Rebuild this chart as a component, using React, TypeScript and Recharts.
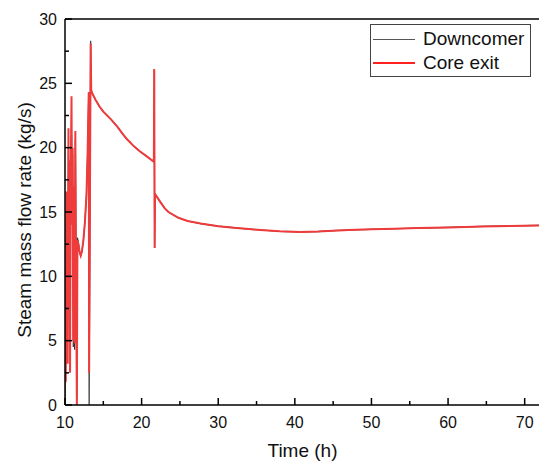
import React from 'react';
import { LineChart, Line, XAxis, YAxis, ReferenceLine } from 'recharts';

// time (h) and steam mass flow rates (kg/s)
const time = [
  10.0, 10.05, 10.1, 10.18, 10.25, 10.3, 10.35, 10.45, 10.52, 10.6, 10.66, 10.75, 10.85, 10.92,
  11.0, 11.08, 11.15, 11.25, 11.35, 11.45, 11.55, 11.62, 11.75, 11.9, 12.05, 12.2, 12.4, 12.6,
  12.8, 12.95, 13.1, 13.15, 13.35, 13.42, 13.5, 14.0, 14.5, 15.0, 16.0, 16.8, 17.5, 18.1, 19.0,
  19.8, 20.5, 21.6, 21.65, 21.7, 21.75, 22.3, 23.0, 23.5, 24.8, 26.0, 27.7, 30, 32, 34, 36, 38,
  40.7, 43, 45, 47, 50, 53, 56, 60, 64.5, 68, 72,
];
const coreExit = [
  1.5, 3.0, 1.8, 16.6, 5.5, 12.0, 3.2, 21.5, 10.0, 19.0, 2.5, 18.0, 24.0, 14.0,
  20.0, 5.0, 17.0, 4.8, 21.3, 9.0, 0, 12.8, 12.5, 11.9, 11.6, 11.9, 12.8, 14.2,
  16.3, 19.5, 24.3, 2.5, 28.1, 24.5, 24.3, 23.7, 23.2, 22.8, 22.2, 21.65, 21.1, 20.65, 20.1,
  19.7, 19.4, 18.9, 26.1, 12.2, 16.4, 15.9, 15.3, 15.0, 14.55, 14.3, 14.1, 13.9, 13.78, 13.67, 13.58, 13.5,
  13.45, 13.48, 13.55, 13.6, 13.65, 13.7, 13.75, 13.8, 13.88, 13.92, 13.96,
];
const downcomer = [
  0, 9.0, 4.0, 14.0, 6.0, 11.0, 5.0, 20.0, 10.5, 18.0, 3.5, 17.5, 21.0, 14.5,
  19.5, 4.5, 16.5, 4.3, 20.6, 10.0, 0.5, 13.0, 12.6, 11.9, 11.6, 11.9, 12.8, 14.2,
  16.3, 19.5, 24.3, 0, 28.3, 24.5, 24.3, 23.7, 23.2, 22.8, 22.2, 21.65, 21.1, 20.65, 20.1,
  19.7, 19.4, 18.9, 26.1, 12.2, 16.4, 15.9, 15.3, 15.0, 14.55, 14.3, 14.1, 13.9, 13.78, 13.67, 13.58, 13.5,
  13.45, 13.48, 13.55, 13.6, 13.65, 13.7, 13.75, 13.8, 13.88, 13.92, 13.96,
];

const xTicks = [10, 15, 20, 25, 30, 35, 40, 45, 50, 55, 60, 65, 70];
const yTicks = [0, 2.5, 5, 7.5, 10, 12.5, 15, 17.5, 20, 22.5, 25, 27.5, 30];

const data = time.map((t, i) => ({ t, core: coreExit[i], down: downcomer[i] }));

const FONT = '"Liberation Sans", Arial, sans-serif';

const YTick = (props: any) => {
  const { x, y, payload } = props;
  const major = payload.value % 5 === 0;
  return (
    <g>
      <line x1={x} x2={x + (major ? 7 : 4)} y1={y} y2={y} stroke="#000" strokeWidth={1.5} />
      {major && (
        <text x={x - 8} y={y} dy={5.5} textAnchor="end" fontSize={16} fontFamily={FONT} fill="#111">
          {payload.value}
        </text>
      )}
    </g>
  );
};

const XTick = (props: any) => {
  const { x, y, payload } = props;
  const major = payload.value % 10 === 0;
  return (
    <g>
      <line x1={x} x2={x} y1={y} y2={y - (major ? 7 : 4)} stroke="#000" strokeWidth={1.5} />
      {major && (
        <text x={x} y={y + 23} textAnchor="middle" fontSize={16} fontFamily={FONT} fill="#111">
          {payload.value}
        </text>
      )}
    </g>
  );
};

const legendText: React.CSSProperties = { fontSize: 19, lineHeight: '24px', color: '#111', marginLeft: 8 };

export default function App() {
  return (
    <div style={{ position: 'absolute', left: 0, top: 0, width: 539, height: 461, overflow: 'hidden', background: '#fff', fontFamily: FONT }}>
      <LineChart width={540} height={461} data={data} margin={{ top: 19, right: 0, left: 0, bottom: 0 }}>
        <XAxis
          dataKey="t"
          type="number"
          domain={[10, 72]}
          ticks={xTicks}
          interval={0}
          tickSize={0}
          tickMargin={0}
          tickLine={false}
          tick={<XTick />}
          height={56}
          axisLine={{ stroke: '#000', strokeWidth: 1.5 }}
          allowDataOverflow
          label={() => (
            <text x={302.5} y={457} textAnchor="middle" fontSize={19} fontFamily={FONT} fill="#111">
              Time (h)
            </text>
          )}
        />
        <YAxis
          type="number"
          domain={[0, 30]}
          ticks={yTicks}
          interval={0}
          width={65}
          tickSize={0}
          tickMargin={0}
          tickLine={false}
          tick={<YTick />}
          axisLine={{ stroke: '#000', strokeWidth: 1.5 }}
          allowDataOverflow
          label={() => (
            <text
              x={0}
              y={0}
              transform="translate(31, 220) rotate(-90)"
              textAnchor="middle"
              fontSize={19}
              fontFamily={FONT}
              fill="#111"
            >
              Steam mass flow rate (kg/s)
            </text>
          )}
        />
        <ReferenceLine y={30} stroke="#000" strokeWidth={1.5} />
        <Line
          dataKey="down"
          name="Downcomer"
          stroke="#333"
          strokeWidth={1.2}
          dot={false}
          type="linear"
          isAnimationActive={false}
        />
        <Line
          dataKey="core"
          name="Core exit"
          stroke="#ee3b3b"
          strokeWidth={2}
          dot={false}
          type="linear"
          isAnimationActive={false}
        />
      </LineChart>
      <div
        style={{
          position: 'absolute',
          left: 370,
          top: 24,
          width: 161,
          height: 53,
          border: '1px solid #444',
          boxSizing: 'border-box',
          background: '#fff',
          padding: '2px 0 0 2px',
        }}
      >
        <div style={{ display: 'flex', alignItems: 'center' }}>
          <div style={{ width: 42, height: 1, background: '#555' }} />
          <span style={legendText}>Downcomer</span>
        </div>
        <div style={{ display: 'flex', alignItems: 'center' }}>
          <div style={{ width: 42, height: 1.5, background: '#ff2020' }} />
          <span style={legendText}>Core exit</span>
        </div>
      </div>
    </div>
  );
}
